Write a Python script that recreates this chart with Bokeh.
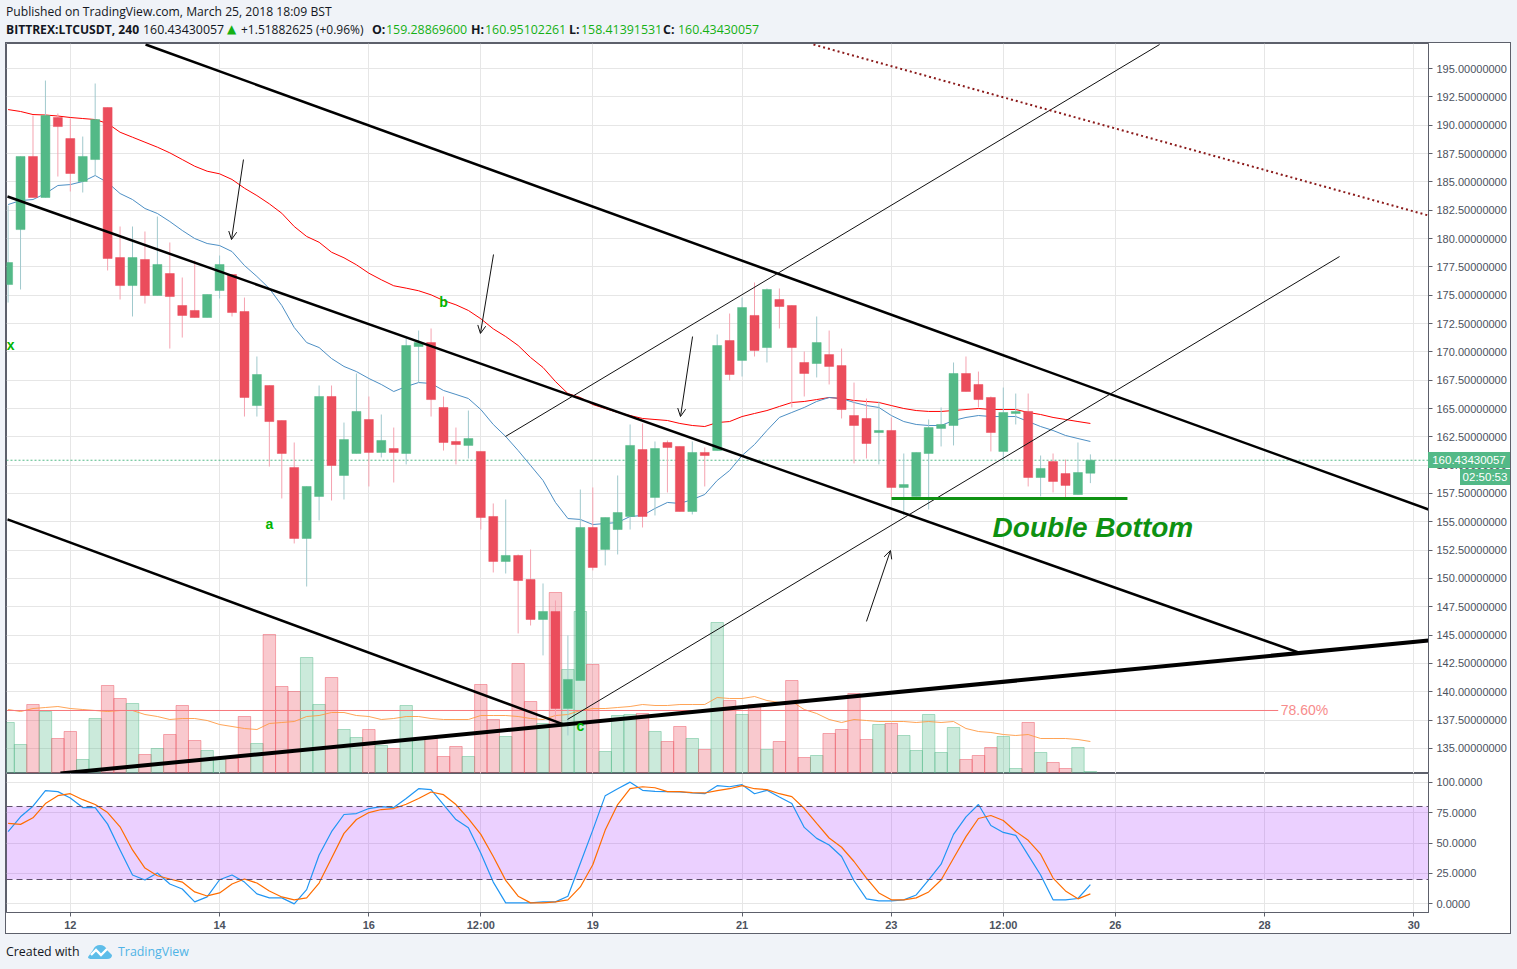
from bokeh.plotting import figure
from bokeh.layouts import column
from bokeh.embed import file_html
from bokeh.resources import INLINE
from bokeh.core.properties import value
from bokeh.models import (Range1d, LinearAxis, FixedTicker, PrintfTickFormatter, Div, Label, Span,
                          BoxAnnotation, Arrow, OpenHead, ColumnDataSource)

first_bar = -5
opens = [175.94,180.79,187.24,183.62,190.68,188.82,185.03,186.97,191.56,178.32,175.85,178.15,174.97,176.91,174.09,173.65,173.03,175.41,176.82,173.56,165.26,167.03,163.94,159.79,153.53,157.24,166.06,159.09,161.03,164.03,161.12,161.47,161.03,170.47,170.82,165.09,162.09,161.74,161.21,155.47,151.5,152.03,149.91,146.38,147.09,138.53,141.0,154.5,152.56,154.32,155.47,161.38,157.15,162.0,161.65,155.91,161.12,161.29,171.0,169.24,173.21,170.38,174.62,174.09,169.06,168.97,169.76,168.79,164.38,164.12,162.88,163.06,158.03,157.24,161.03,163.24,163.5,168.09,167.12,165.97,161.21,164.56,164.74,158.91,160.32,159.26,157.41,159.28869600]
highs = [182.91,187.24,190.85,193.94,191.03,190.59,189.0,193.68,191.56,181.06,181.06,180.62,181.94,179.65,176.56,178.06,175.06,178.5,176.82,174.79,169.59,167.03,163.94,162.0,158.12,167.03,167.03,163.76,168.09,166.06,164.47,163.32,171.18,171.88,172.06,166.06,163.32,164.82,161.21,156.62,156.97,152.12,152.56,149.56,148.06,144.97,157.85,158.03,155.38,159.09,163.59,163.68,162.09,162.18,161.65,162.09,161.56,171.53,173.38,174.79,176.12,175.59,175.59,174.09,170.03,173.12,171.88,170.29,167.29,165.88,165.62,164.21,161.03,161.12,164.03,165.09,169.06,169.59,168.26,166.06,166.85,166.32,166.32,160.85,161.03,160.5,162.0,160.95102261]
lows = [174.35,175.5,183.62,183.62,185.47,184.15,184.06,185.56,177.18,174.62,173.12,174.26,174.97,170.29,171.26,173.03,173.03,174.71,173.12,164.29,164.29,159.88,157.06,153.09,149.29,155.12,156.88,156.97,161.03,158.12,160.68,158.47,160.06,167.29,164.29,161.29,160.06,160.59,154.32,150.53,150.44,145.15,145.85,143.21,137.47,136.15,141.0,150.71,151.15,152.12,154.32,154.5,155.56,157.59,155.91,155.65,158.12,161.29,167.47,167.82,169.59,169.06,172.06,165.09,166.06,167.74,167.12,164.12,160.15,160.59,160.06,157.15,155.56,157.24,156.09,161.65,161.74,166.5,165.09,161.21,160.41,163.59,158.12,157.24,157.59,157.15,157.41,158.41391531]
closes = [177.88,187.24,183.62,190.85,189.88,185.74,187.24,190.5,178.24,175.85,178.32,174.97,177.71,174.88,173.21,173.03,175.06,177.71,173.47,165.97,168.0,163.85,161.03,153.53,158.12,166.06,159.97,162.26,164.74,161.12,162.18,161.12,170.56,170.82,165.79,162.0,161.82,162.35,155.38,151.5,152.03,149.82,146.38,147.09,138.53,141.09,154.5,150.97,155.38,155.82,161.74,155.47,161.47,161.56,155.91,161.12,160.85,170.56,168.0,173.91,170.12,175.5,174.0,170.38,168.09,170.82,168.71,164.91,163.5,161.91,163.06,158.03,158.29,161.12,163.32,163.59,168.09,166.5,165.79,162.88,164.65,164.74,158.91,159.71,158.56,158.21,159.35,160.43430057]
volumes = [51,29,69,62,35,42,14,55,88,75,70,19,25,39,68,33,23,14,15,57,30,139,87,82,116,69,96,44,36,44,28,25,68,34,35,17,27,17,89,54,37,110,72,50,181,104,162,109,22,58,59,60,42,32,47,35,24,151,73,59,69,24,32,93,16,18,40,44,80,34,49,50,38,23,59,21,46,14,18,26,37,5,51,21,11,5,26,2]
volume_ma = [64,62,65,66,67,65,64,63,62,63,63,59,57,54,55,55,53,49,47,45,44,50,51,52,57,58,61,61,58,57,54,55,57,57,55,54,54,54,58,58,58,57,55,54,58,59,63,65,65,66,67,69,68,68,69,69,69,76,75,75,77,73,71,72,64,60,54,51,54,53,52,52,52,51,52,51,52,45,42,41,39,38,39,35,35,35,34,32]
ema_slow = [191.38,191.21,190.94,190.9,190.81,190.68,190.59,190.5,190.15,189.38,188.94,188.5,188.06,187.56,186.97,186.38,185.94,185.71,185.21,184.44,183.79,183.06,182.23,181.06,180.18,179.67,178.79,178.3,177.68,176.94,176.36,175.83,175.62,175.39,175.03,174.53,174.15,173.65,172.92,172.03,171.35,170.56,169.5,168.62,167.38,166.32,165.97,165.35,165.0,164.65,164.38,164.12,164.03,163.94,163.68,163.5,163.41,163.76,163.85,164.29,164.56,164.82,165.18,165.53,165.62,165.79,165.97,165.88,165.71,165.62,165.53,165.26,165.0,164.82,164.74,164.74,164.82,164.91,165.0,164.91,164.91,164.91,164.65,164.47,164.21,164.03,163.85,163.68]
ema_fast = [183.0,183.35,183.44,183.97,184.68,184.76,185.03,185.56,184.94,183.97,183.44,182.65,182.21,181.5,180.71,180.0,179.56,179.38,178.85,177.62,176.65,175.59,174.09,172.15,170.82,170.38,169.41,168.71,168.26,167.65,167.12,166.5,166.94,167.29,167.21,166.59,166.24,165.88,164.91,163.59,162.53,161.29,159.97,158.65,156.71,155.29,155.21,154.76,154.85,154.94,155.47,155.56,156.18,156.71,156.62,156.97,157.41,158.65,159.53,160.85,161.82,163.06,164.21,164.65,165.09,165.62,165.97,165.88,165.53,165.26,165.09,164.38,163.85,163.59,163.5,163.5,163.94,164.21,164.38,164.29,164.29,164.29,163.85,163.41,163.06,162.62,162.35,162.09]
stoch_k = [59.3,71.5,80.2,93.0,92.2,87.0,79.1,79.1,65.5,44.3,23.7,19.6,25.3,16.3,12.2,1.6,5.7,19.8,23.7,17.9,8.2,4.9,4.9,0.0,11.7,40.2,59.3,73.4,74.2,78.3,79.9,79.1,86.5,94.6,93.8,81.6,69.3,62.5,41.6,17.9,0.8,0.8,0.8,1.6,1.6,6.3,33.4,60.6,88.9,94.6,100.0,93.3,92.4,92.2,91.9,91.1,90.5,97.1,96.2,97.9,90.5,93.3,87.8,82.4,62.8,53.8,48.4,38.9,19.0,4.1,2.4,2.4,3.3,7.3,19.8,32.6,57.1,71.5,81.6,64.4,58.7,56.3,40.0,23.7,3.3,3.3,4.4,15.8]
stoch_d = [66.1,65.3,70.7,82.4,88.9,90.5,85.6,81.6,75.0,63.3,44.3,29.4,23.1,20.4,17.9,9.8,6.5,9.0,16.3,20.4,17.1,10.6,5.7,3.3,4.9,17.1,37.5,57.9,69.3,75.0,77.5,78.3,81.8,86.5,91.9,89.7,81.6,70.1,57.1,38.9,19.3,6.3,0.8,0.8,1.6,3.3,13.9,32.1,60.6,81.6,94.6,96.2,95.4,92.2,92.2,91.4,91.1,93.0,94.6,97.1,94.6,93.8,90.5,88.1,78.3,66.1,54.1,46.5,34.8,21.2,9.0,3.3,3.3,4.9,9.8,19.6,37.5,55.2,70.1,72.6,68.5,59.5,52.2,40.8,21.2,10.6,4.1,8.2]

price_ticks = [135,137.5,140,142.5,145,147.5,150,152.5,155,157.5,160,162.5,165,167.5,170,172.5,175,177.5,180,182.5,185,187.5,190,192.5,195]
stoch_ticks = [0,25,50,75,100]
time_ticks = {0:"12",12:"14",24:"16",33:"12:00",42:"19",54:"21",66:"23",75:"12:00",84:"26",96:"28",108:"30"}

channel_upper_x, channel_upper_y = [6.05,109.18], [197.12,156.09]
channel_mid_x, channel_mid_y = [-5.05,98.73], [183.71,143.47]
channel_low_x, channel_low_y = [-5.05,39.65], [155.21,137.12]
support_x, support_y = [-0.79,109.18], [132.79,144.53]
thin_a_x, thin_a_y = [34.98,87.56], [162.53,197.12]
thin_b_x, thin_b_y = [39.97,102.03], [137.56,178.41]
dotted_x, dotted_y = [59.74,109.18], [197.12,182.03]
bottom_x, bottom_y = [66.01,84.98], [157.06,157.06]
fib_x, fib_y = [-5.1,97.1], [138.35,138.35]
arrows_data = [(13.92,186.97,12.96,179.91),(34.02,178.59,32.97,171.62),(50.02,171.35,49.05,164.29),(64.0,146.21,65.93,152.47)]
wave_text, wave_x, wave_y = ["a","b","c","x"], [16.01,30.0,41.0,-4.8], [154.82,174.43,136.94,170.56]
last_price = 160.43430057

UP, DOWN = "#53b987", "#eb4d5c"
UP_WICK, DOWN_WICK = "#a0c9cd", "#f5a3b0"
BG, AXIS, TXT, GRID = "#f0f3f8", "#5d606b", "#4c525e", "#e6e6e6"
SANS = "Liberation Sans"

xs = [first_bar + n for n in range(len(closes))]
up = [c >= o for o, c in zip(opens, closes)]
src = ColumnDataSource(dict(
    x=xs, top=[max(o, c) for o, c in zip(opens, closes)], bottom=[min(o, c) for o, c in zip(opens, closes)],
    high=highs, low=lows, vol=volumes,
    color=[UP if u else DOWN for u in up], wick=[UP_WICK if u else DOWN_WICK for u in up]))

X0, X1 = -5.129, 109.18


def base_fig(h, yr, bottom):
    f = figure(width=1504, height=h, x_range=Range1d(X0, X1), y_range=Range1d(*yr), output_backend="svg",
               toolbar_location=None, min_border_left=0, min_border_right=82, min_border_top=0,
               min_border_bottom=bottom, y_axis_location="right", x_axis_location="below" if bottom else None,
               outline_line_color=AXIS, outline_line_width=1, background_fill_color="white", border_fill_color="white")
    f.xgrid.ticker = FixedTicker(ticks=list(time_ticks))
    f.xgrid.grid_line_color = GRID
    f.ygrid.grid_line_color = GRID
    ax = f.yaxis[0]
    ax.axis_line_color = AXIS
    ax.major_tick_line_color = AXIS
    ax.major_tick_in, ax.major_tick_out = 0, 4
    ax.minor_tick_line_color = None
    ax.major_label_text_font = SANS
    ax.major_label_text_font_size = "11px"
    ax.major_label_text_color = TXT
    ax.major_label_standoff = 4
    return f


# ---- price pane ----
p = base_fig(730, (132.79, 197.21), 0)
p.yaxis[0].ticker = FixedTicker(ticks=price_ticks)
p.ygrid.ticker = FixedTicker(ticks=price_ticks)
p.yaxis[0].formatter = PrintfTickFormatter(format="%.8f")
p.extra_y_ranges = {"vol": Range1d(0, 730)}

p.vbar(x="x", width=1.0, top="vol", bottom=0, y_range_name="vol", source=src, fill_color="color",
       fill_alpha=0.30, line_color="color", line_alpha=0.45, line_width=1)
p.line(xs, volume_ma, y_range_name="vol", line_color="#ff9a45", line_width=1, line_alpha=0.9)
p.line(fib_x, fib_y, line_color="#f7797d", line_width=1)
p.line([X0, X1], [last_price, last_price], line_color=UP, line_width=1, line_dash="2 2")
p.line(xs, ema_slow, line_color="#ff0000", line_width=1)
p.line(xs, ema_fast, line_color="#4d8fc4", line_width=1)
p.segment(x0="x", x1="x", y0="low", y1="high", source=src, line_color="wick", line_width=1)
p.vbar(x="x", width=0.72, top="top", bottom="bottom", source=src, fill_color="color", line_color="color", line_width=0.5)

p.line(channel_upper_x, channel_upper_y, line_color="black", line_width=2.5)
p.line(channel_mid_x, channel_mid_y, line_color="black", line_width=2.5)
p.line(channel_low_x, channel_low_y, line_color="black", line_width=2.5)
p.line(support_x, support_y, line_color="black", line_width=4)
p.line(thin_a_x, thin_a_y, line_color="#111111", line_width=1)
p.line(thin_b_x, thin_b_y, line_color="#111111", line_width=1)
p.line(dotted_x, dotted_y, line_color="#8b1a1a", line_width=2, line_dash="2 3")
p.line(bottom_x, bottom_y, line_color="#0e9112", line_width=3)
for x0, y0, x1, y1 in arrows_data:
    p.add_layout(Arrow(end=OpenHead(size=8, line_color="#111111", line_width=1), x_start=x0, y_start=y0, x_end=x1, y_end=y1,
                       line_color="#111111", line_width=1))

p.text(wave_x, wave_y, text=wave_text, text_font=value(SANS), text_font_style="bold", text_font_size="14px",
       text_color="#00b400", text_align="center", text_baseline="middle")
p.text([74.14], [154.5], text=["Double Bottom"], text_font=value(SANS), text_font_style="bold italic",
       text_font_size="28px", text_color="#0e9112", text_align="left", text_baseline="middle")
p.add_layout(Label(x=97.3, y=138.35, text="78.60%", text_font=SANS, text_font_size="14px", text_color="#f78c8c",
                   text_align="left", text_baseline="middle"))

# ---- stochastic pane ----
s = base_fig(160, (-7.1, 107.1), 20)
s.yaxis[0].ticker = FixedTicker(ticks=stoch_ticks)
s.ygrid.ticker = FixedTicker(ticks=stoch_ticks)
s.yaxis[0].formatter = PrintfTickFormatter(format="%.4f")
xa = s.xaxis[0]
xa.ticker = FixedTicker(ticks=list(time_ticks))
xa.major_label_overrides = time_ticks
xa.axis_line_color = AXIS
xa.major_tick_line_color = AXIS
xa.major_tick_in, xa.major_tick_out = 0, 4
xa.minor_tick_line_color = None
xa.major_label_text_font = SANS
xa.major_label_text_font_size = "11px"
xa.major_label_text_font_style = "bold"
xa.major_label_text_color = TXT
xa.major_label_standoff = 2
s.add_layout(BoxAnnotation(bottom=20, top=80, fill_color="#9915ff", fill_alpha=0.2, line_color=None, level="underlay"))
s.add_layout(Span(location=80, dimension="width", line_color="#5d4f6b", line_dash="6 4", line_width=1))
s.add_layout(Span(location=20, dimension="width", line_color="#5d4f6b", line_dash="6 4", line_width=1))
s.line(xs, stoch_k, line_color="#2196f3", line_width=1.2)
s.line(xs, stoch_d, line_color="#ff6d00", line_width=1.2)

# ---- header / footer ----
F = "font-family:'Open Sans';font-size:12.4px;position:absolute;white-space:nowrap;"
G = "color:#14b014;"
D = "color:#131722;"


def span(x, y, text, style=D):
    return f'<span style="{F}left:{x}px;top:{y}px;{style}">{text}</span>'


def tag(left, top, w, h, text):
    return (f'<span style="position:absolute;left:{left}px;top:{top}px;width:{w}px;height:{h}px;background:{UP};color:white;'
            f"font-family:'{SANS}';font-size:11.5px;line-height:{h}px;text-align:center;white-space:nowrap;\">{text}</span>")


header_html = "".join([
    span(6, 3, "Published on TradingView.com, March 25, 2018 18:09 BST", D + "font-size:12.15px;"),
    span(6, 21, "BITTREX:LTCUSDT, 240", D + "font-weight:bold;font-size:12.1px;"),
    span(143, 21, "160.43430057"),
    span(227, 21, "&#9650;", G + "font-family:'DejaVu Sans';font-size:12px;"),
    span(241, 21, "+1.51882625 (+0.96%)", D + "font-size:12px;"),
    span(372, 21, "O:", D + "font-weight:bold;"), span(386, 21, "159.28869600", G),
    span(471, 21, "H:", D + "font-weight:bold;"), span(485, 21, "160.95102261", G),
    span(569, 21, "L:", D + "font-weight:bold;"), span(581, 21, "158.41391531", G),
    span(663, 21, "C:", D + "font-weight:bold;"), span(678, 21, "160.43430057", G),
    tag(1428, 452, 82, 16, f"{last_price:.8f}"),
    tag(1460, 469, 50, 16, "02:50:53"),
])
header = Div(text=header_html, width=1517, height=43, margin=0,
             styles={"position": "relative", "z-index": "10", "overflow": "visible"})

logo = ('<svg style="position:absolute;left:88px;top:11px" width="24" height="15" viewBox="0 0 24 15">'
        '<path d="M0 13 L5 6 Q7 1 12 1 Q17 1 19 6 L24 11 Q24 15 19 15 L4 15 Q0 15 0 13Z" fill="#5ebde9"/>'
        '<path d="M3 11 L8 6 L13 11 L19 5" fill="none" stroke="white" stroke-width="2.4"/></svg>')
footer_html = span(6, 10, "Created with") + logo + span(118, 10, "TradingView", "color:#4fb3e6;")
footer = Div(text=footer_html, width=1517, height=36, margin=0, styles={"position": "relative"})

charts = column(p, s, width=1504, height=890, margin=(0, 0, 0, 6), spacing=0,
                styles={"outline": f"1px solid {AXIS}", "background-color": "white"})
root = column(header, charts, footer, width=1517, height=969, margin=0, spacing=0,
              styles={"background-color": BG})

open("out.html", "w").write(file_html(root, INLINE))
